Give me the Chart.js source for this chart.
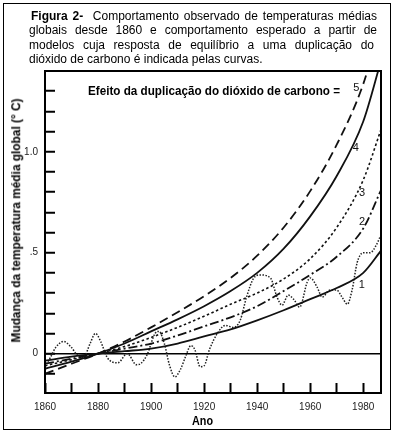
<!DOCTYPE html>
<html>
<head>
<meta charset="utf-8">
<script src="https://cdn.jsdelivr.net/npm/chart.js"></script>
<style>
  html, body { margin: 0; padding: 0; background: #fff; }
  #page { position: relative; width: 394px; height: 434px; overflow: hidden; font-family: "Liberation Sans", Arial, sans-serif; color: #000; }
  #frame { position: absolute; left: 3px; top: 3px; width: 386px; height: 425px; border: 1px solid #000; }
  #chart { position: absolute; left: 0; top: 0; }
  .ln { position: absolute; font-size: 12px; line-height: 14px; }
  .just { text-align: justify; text-align-last: justify; }
  .sq { position: absolute; font-weight: bold; font-size: 13px; line-height: 13px; white-space: nowrap; }
</style>
</head>
<body>
<div id="page">
  <div id="frame"></div>
  <canvas id="chart" width="394" height="434"></canvas>
  <div class="ln just" style="left:31px;top:9px;width:346px"><b>Figura 2-</b>&nbsp; Comportamento observado de temperaturas médias</div>
  <div class="ln just" style="left:29px;top:23px;width:348px">globais desde 1860 e comportamento esperado a partir de</div>
  <div class="ln just" style="left:29px;top:38px;width:345px">modelos cuja resposta de equilíbrio a uma duplicação do</div>
  <div class="ln" style="left:29px;top:52px;white-space:nowrap">dióxido de carbono é indicada pelas curvas.</div>
  <div class="sq" id="caption" style="left:88px;top:84px">Efeito da duplicação do dióxido de carbono =</div>
  <div class="sq" id="xTitle" style="left:192px;top:414px">Ano</div>
  <div class="sq" id="yTitle">Mudança da temperatura média global (° C)</div>
</div>
<script>
// model curves (response to CO2 doubling), degrees C
const modelYears = [1860, 1870, 1880, 1890, 1900, 1910, 1920, 1930, 1940, 1950, 1960, 1970, 1980, 1986.7];
const curve1 = [-0.035, -0.015, 0.0, 0.012, 0.025, 0.05, 0.085, 0.12, 0.165, 0.215, 0.27, 0.325, 0.40, 0.51];
const curve2 = [-0.05, -0.025, 0.0, 0.025, 0.05, 0.09, 0.135, 0.18, 0.235, 0.31, 0.39, 0.48, 0.62, 0.81];
const curve3 = [-0.06, -0.03, 0.0, 0.035, 0.08, 0.13, 0.185, 0.245, 0.30, 0.37, 0.47, 0.625, 0.86, 1.11];
const curve4 = [-0.075, -0.04, 0.0, 0.05, 0.11, 0.17, 0.235, 0.31, 0.40, 0.52, 0.68, 0.88, 1.15, 1.45];
const curve5 = [-0.1, -0.05, 0.0, 0.06, 0.13, 0.205, 0.285, 0.375, 0.485, 0.625, 0.805, 1.035, 1.335, 1.64];
const curveNames = ["1", "2", "3", "4", "5"];

// observed global mean temperature
const obsYears = [1860, 1862, 1864, 1867, 1870, 1872, 1874.5, 1877, 1879, 1881, 1883.5, 1887.5, 1891, 1894.5, 1896, 1898.5,
  1901.5, 1903, 1905, 1907, 1909, 1911, 1913, 1915, 1916.5, 1918.5, 1920, 1922, 1925, 1928, 1931, 1933.6, 1936, 1938.5,
  1941, 1945, 1947.5, 1949.4, 1951.7, 1954, 1956, 1958.9, 1960, 1962.6, 1964.5, 1967.5, 1970, 1972, 1974, 1975.8,
  1977.7, 1980, 1982.6, 1985, 1986.4];
const obsValues = [-0.065, -0.02, 0.03, 0.06, 0.03, -0.005, -0.02, 0.05, 0.10, 0.06, -0.02, -0.045, 0.0, -0.055, -0.05, -0.005,
  0.10, 0.11, 0.05, -0.06, -0.115, -0.08, -0.015, 0.04, 0.02, -0.065, -0.06, 0.02, 0.10, 0.14, 0.13, 0.165, 0.28, 0.37,
  0.39, 0.375, 0.28, 0.24, 0.29, 0.265, 0.23, 0.355, 0.375, 0.33, 0.28, 0.315, 0.315, 0.28, 0.245, 0.315,
  0.45, 0.50, 0.50, 0.54, 0.58];

// axis ticks
const xTicks = [1860, 1870, 1880, 1890, 1900, 1910, 1920, 1930, 1940, 1950, 1960, 1970, 1980];
const xTickLabels = { 1860: "1860", 1880: "1880", 1900: "1900", 1920: "1920", 1940: "1940", 1960: "1960", 1980: "1980" };
const yTicks = [-0.1, 0, 0.1, 0.2, 0.3, 0.4, 0.5, 0.6, 0.7, 0.8, 0.9, 1.0, 1.1, 1.2, 1.3];
const yTickLabels = { "0": "0", "0.5": ".5", "1": "1.0" };

function pts(xs, ys) { return xs.map((x, i) => ({ x: x, y: ys[i] })); }

function line(data, dash, width, color) {
  return {
    data: data, borderColor: color, borderWidth: width, borderDash: dash,
    pointRadius: 0, fill: false, cubicInterpolationMode: "monotone"
  };
}

const labelSpots = [
  { x: 1979.5, y: 0.34 },
  { x: 1979.6, y: 0.652 },
  { x: 1979.6, y: 0.795 },
  { x: 1977.2, y: 1.017 },
  { x: 1977.4, y: 1.315 }
];

const extras = {
  id: "extras",
  afterDatasetsDraw(chart) {
    const { ctx, chartArea: a, scales } = chart;
    ctx.save();
    ctx.strokeStyle = "#000";
    ctx.lineWidth = 2;
    ctx.strokeRect(a.left, a.top, a.right - a.left, a.bottom - a.top);
    ctx.fillStyle = "#111";
    ctx.font = "11px 'Liberation Sans', Arial, sans-serif";
    ctx.textAlign = "center";
    ctx.textBaseline = "middle";
    labelSpots.forEach((s, i) => {
      ctx.fillText(curveNames[i], scales.x.getPixelForValue(s.x), scales.y.getPixelForValue(s.y));
    });
    ctx.restore();
  }
};

new Chart(document.getElementById("chart"), {
  type: "line",
  data: {
    datasets: [
      line(pts(modelYears, curve1), [], 1.8, "#111"),
      line(pts(modelYears, curve2), [9, 3, 2, 3], 1.8, "#111"),
      line(pts(modelYears, curve3), [2.5, 2.5], 1.6, "#111"),
      line(pts(modelYears, curve4), [], 1.8, "#111"),
      line(pts(modelYears, curve5), [9, 5], 1.8, "#111"),
      line(pts(obsYears, obsValues), [1.5, 1.5], 1.5, "#222")
    ]
  },
  options: {
    responsive: false,
    animation: false,
    layout: { padding: { top: 71, right: 13, left: 0, bottom: 0 } },
    plugins: { legend: { display: false }, tooltip: { enabled: false } },
    scales: {
      x: {
        type: "linear", min: 1860, max: 1986.7,
        afterFit: s => { s.height = 41; },
        afterBuildTicks: s => { s.ticks = xTicks.map(v => ({ value: v })); },
        grid: { drawOnChartArea: false, tickLength: -10, tickColor: "#000", tickWidth: 2 },
        border: { color: "#000", width: 2 },
        ticks: {
          padding: 18, color: "#222", maxRotation: 0, autoSkip: false,
          font: { family: "'Liberation Sans', Arial, sans-serif", size: 10 },
          callback: v => xTickLabels[v] || ""
        }
      },
      y: {
        type: "linear", min: -0.195, max: 1.4,
        afterFit: s => { s.width = 45; },
        afterBuildTicks: s => { s.ticks = yTicks.map(v => ({ value: v })); },
        grid: {
          tickLength: -10, tickColor: "#000", tickWidth: 2, lineWidth: 1.5,
          color: c => (c.tick && Math.abs(c.tick.value) < 1e-9 ? "#000" : "rgba(0,0,0,0)")
        },
        border: { color: "#000", width: 2 },
        ticks: {
          padding: 17, color: "#222", autoSkip: false,
          font: { family: "'Liberation Sans', Arial, sans-serif", size: 10 },
          callback: v => yTickLabels[String(Math.round(v * 10) / 10)] || ""
        }
      }
    }
  },
  plugins: [extras]
});

// condensed bold captions (the original uses a narrow bold face)
function squeeze(id, target) {
  const el = document.getElementById(id);
  const w = el.getBoundingClientRect().width;
  el.style.transformOrigin = "0 50%";
  el.style.transform = "scaleX(" + (target / w) + ")";
}
squeeze("caption", 252);
squeeze("xTitle", 21);

(function () {
  const el = document.getElementById("yTitle");
  const r = el.getBoundingClientRect();
  el.style.left = (15.5 - r.width / 2) + "px";
  el.style.top = (220 - r.height / 2) + "px";
  el.style.transformOrigin = "50% 50%";
  el.style.transform = "rotate(-90deg) scaleX(" + (244 / r.width) + ")";
})();
</script>
</body>
</html>
